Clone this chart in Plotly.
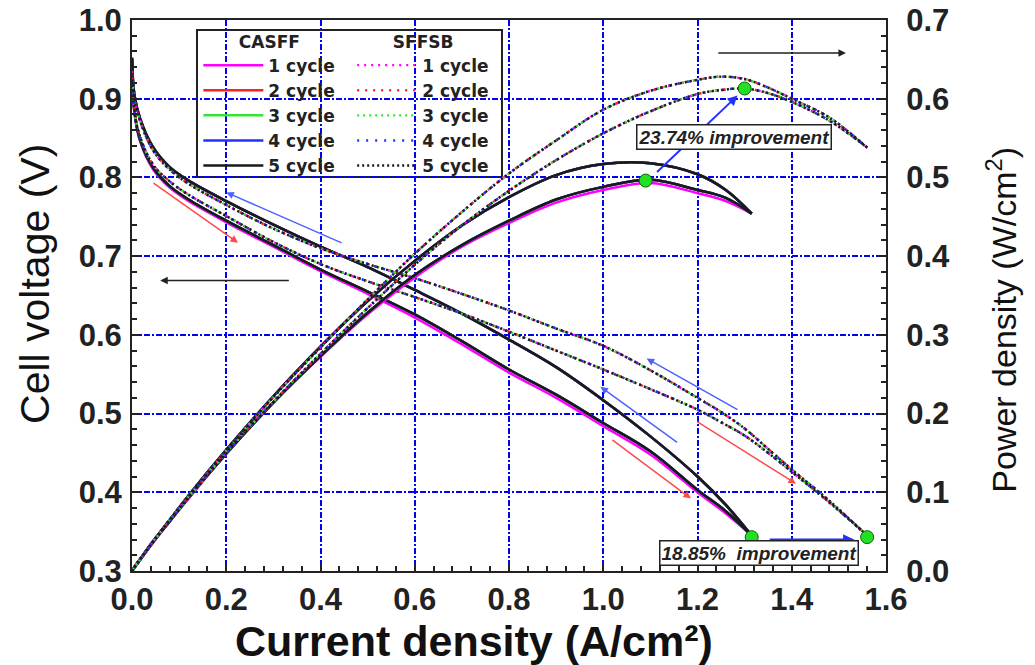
import plotly.graph_objects as go

# ---------------- data ----------------
cycles = ["1 cycle", "2 cycle", "3 cycle", "4 cycle", "5 cycle"]
cycle_colors = ["#ff00ff", "#ff2020", "#33e633", "#2030ff", "#1a1a1a"]

# CASFF current density grid (A/cm2)
casff_i = [0.0, 0.005, 0.017, 0.045, 0.08, 0.12, 0.2, 0.3, 0.4, 0.5, 0.6,
           0.7, 0.8, 0.9, 1.0, 1.1, 1.2, 1.26, 1.315]
# forward sweep (increasing current) - lower branch
casff_fwd_v = [0.950, 0.885, 0.848, 0.812, 0.789, 0.772, 0.745, 0.714, 0.683, 0.655,
               0.626, 0.592, 0.556, 0.524, 0.488, 0.452, 0.403, 0.376, 0.345]
casff_fwd_p = [0.0, 0.004, 0.014, 0.037, 0.063, 0.093, 0.149, 0.214, 0.273, 0.328,
               0.376, 0.414, 0.445, 0.472, 0.488, 0.497, 0.484, 0.474, 0.454]
# backward sweep - upper branch
casff_bwd_v = [0.952, 0.905, 0.875, 0.838, 0.813, 0.796, 0.770, 0.740, 0.712, 0.686,
               0.657, 0.627, 0.594, 0.559, 0.517, 0.471, 0.420, 0.384, 0.345]
casff_bwd_p = [0.0, 0.005, 0.015, 0.038, 0.065, 0.096, 0.154, 0.222, 0.285, 0.343,
               0.394, 0.439, 0.475, 0.503, 0.517, 0.518, 0.504, 0.484, 0.454]
# cycle 1 forward branch sits slightly lower
casff_c1_fwd_v = [0.950, 0.883, 0.846, 0.810, 0.787, 0.770, 0.743, 0.712, 0.681, 0.652,
                  0.622, 0.588, 0.552, 0.520, 0.484, 0.448, 0.400, 0.373, 0.345]
casff_c1_fwd_p = [0.0, 0.004, 0.014, 0.036, 0.063, 0.092, 0.149, 0.214, 0.272, 0.326,
                  0.373, 0.412, 0.442, 0.468, 0.484, 0.493, 0.480, 0.470, 0.454]

# SFFSB current density grid
sffsb_i = [0.0, 0.005, 0.017, 0.045, 0.08, 0.12, 0.2, 0.3, 0.4, 0.5, 0.6, 0.7,
           0.8, 0.9, 1.0, 1.1, 1.2, 1.25, 1.3, 1.35, 1.4, 1.48, 1.56]
sffsb_fwd_v = [0.930, 0.885, 0.852, 0.816, 0.795, 0.778, 0.751, 0.718, 0.690, 0.668, 0.648,
               0.627, 0.604, 0.580, 0.556, 0.531, 0.505, 0.489, 0.472, 0.450, 0.426,
               0.387, 0.345]
sffsb_fwd_p = [0.0, 0.004, 0.014, 0.037, 0.064, 0.093, 0.150, 0.215, 0.276, 0.334, 0.389,
               0.439, 0.483, 0.522, 0.556, 0.584, 0.606, 0.611, 0.613, 0.607, 0.596,
               0.572, 0.538]
sffsb_bwd_v = [0.935, 0.900, 0.872, 0.834, 0.810, 0.792, 0.765, 0.735, 0.710, 0.690, 0.672,
               0.652, 0.631, 0.608, 0.586, 0.555, 0.520, 0.502, 0.481, 0.455, 0.429,
               0.389, 0.345]
sffsb_bwd_p = [0.0, 0.005, 0.015, 0.038, 0.065, 0.095, 0.153, 0.221, 0.284, 0.345, 0.403,
               0.456, 0.505, 0.547, 0.586, 0.610, 0.624, 0.628, 0.625, 0.614, 0.600,
               0.576, 0.538]

# highlighted points
peak_i = [1.09, 1.30]
peak_p = [0.496, 0.613]
limit_i = [1.315, 1.56]
limit_v = [0.343, 0.343]

x_ticks = [0.0, 0.2, 0.4, 0.6, 0.8, 1.0, 1.2, 1.4, 1.6]

# ---------------- figure ----------------
FONT = "Liberation Sans, Arial, Helvetica, sans-serif"
sffsb_dashes = ["2px,5px", "2px,6px", "2px,4px", "2px,7px", "2px,3px"]


def loop(i, fwd, bwd):
    xs = list(i) + [None] + list(reversed(i))
    ys = list(fwd) + [None] + list(reversed(bwd))
    return xs, ys


fig = go.Figure()

for k, (name, col) in enumerate(zip(cycles, cycle_colors)):
    fv = casff_c1_fwd_v if k == 0 else casff_fwd_v
    fp = casff_c1_fwd_p if k == 0 else casff_fwd_p
    xs, ys = loop(casff_i, fv, casff_bwd_v)
    fig.add_trace(go.Scatter(x=xs, y=ys, mode="lines", name=name, legend="legend",
                             legendgroup="c%d" % k,
                             line=dict(color=col, width=2.5, shape="spline", smoothing=1.0)))
    xs, ys = loop(casff_i, fp, casff_bwd_p)
    fig.add_trace(go.Scatter(x=xs, y=ys, mode="lines", yaxis="y2", showlegend=False,
                             legendgroup="c%d" % k,
                             line=dict(color=col, width=2.5, shape="spline", smoothing=1.0)))

for k, (name, col) in enumerate(zip(cycles, cycle_colors)):
    xs, ys = loop(sffsb_i, sffsb_fwd_v, sffsb_bwd_v)
    fig.add_trace(go.Scatter(x=xs, y=ys, mode="lines", name=name, legend="legend2",
                             legendgroup="s%d" % k,
                             line=dict(color=col, width=2.4, dash=sffsb_dashes[k],
                                       shape="spline", smoothing=1.0)))
    xs, ys = loop(sffsb_i, sffsb_fwd_p, sffsb_bwd_p)
    fig.add_trace(go.Scatter(x=xs, y=ys, mode="lines", yaxis="y2", showlegend=False,
                             legendgroup="s%d" % k,
                             line=dict(color=col, width=2.4, dash=sffsb_dashes[k],
                                       shape="spline", smoothing=1.0)))

marker = dict(size=13, color="#22e022", line=dict(color="#106010", width=1))
fig.add_trace(go.Scatter(x=peak_i, y=peak_p, yaxis="y2", mode="markers",
                         marker=marker, showlegend=False))
fig.add_trace(go.Scatter(x=limit_i, y=limit_v, mode="markers",
                         marker=marker, showlegend=False))

GRID = "#0000ff"
axis_common = dict(showline=True, linecolor="#222", linewidth=2, automargin=False,
                   ticks="inside", ticklen=8, tickwidth=1.5, tickcolor="#222",
                   tickfont=dict(family=FONT, size=31, color="#222", weight="bold"),
                   zeroline=False)
legend_font = dict(family="DejaVu Sans, Liberation Sans, sans-serif", size=17,
                   color="#222", weight="bold")

fig.update_layout(
    width=1035, height=665,
    margin=dict(l=132, r=149, t=20, b=94),
    paper_bgcolor="white", plot_bgcolor="white",
    xaxis=dict(range=[0, 1.6], tickvals=x_ticks, tickformat=".1f",
               showgrid=True, gridcolor=GRID, gridwidth=1.5, griddash="6px,2px,2px,2px",
               mirror=True, ticklabelstandoff=0,
               minor=dict(ticks="inside", dtick=0.04, ticklen=5, tickcolor="#222"),
               **axis_common),
    yaxis=dict(range=[0.3, 1.0], dtick=0.1, tickformat=".1f",
               showgrid=True, gridcolor=GRID, gridwidth=1.5, griddash="6px,2px,2px,2px",
               ticklabelstandoff=2,
               minor=dict(ticks="inside", dtick=0.02, ticklen=5, tickcolor="#222"),
               **axis_common),
    yaxis2=dict(range=[0.0, 0.7], dtick=0.1, tickformat=".1f", overlaying="y", side="right",
                showgrid=False, ticklabelstandoff=12,
                minor=dict(ticks="inside", dtick=0.02, ticklen=5, tickcolor="#222"),
                **axis_common),
    legend=dict(x=0.088, y=0.99, xanchor="left", yanchor="top", itemwidth=60,
                bgcolor="rgba(0,0,0,0)", borderwidth=0, tracegroupgap=0,
                font=legend_font,
                title=dict(text="CASFF", side="top center", font=legend_font)),
    legend2=dict(x=0.292, y=0.99, xanchor="left", yanchor="top", itemwidth=60,
                 bgcolor="rgba(0,0,0,0)", borderwidth=0, tracegroupgap=0,
                 font=legend_font,
                 title=dict(text="SFFSB", side="top center", font=legend_font)),
    shapes=[dict(type="rect", xref="paper", yref="paper", x0=0.0862, x1=0.4907,
                 y0=0.715, y1=0.982, line=dict(color="#222", width=2),
                 fillcolor="white", layer="between")],
)


def arrow(head, tail, color, width=1.5, yref="y", size=1.0):
    return dict(x=head[0], y=head[1], ax=tail[0], ay=tail[1], xref="x", yref=yref,
                axref="x", ayref=yref, text="", showarrow=True, arrowhead=2,
                arrowsize=size, arrowwidth=width, arrowcolor=color, standoff=0,
                startstandoff=0)


RED = "#ff4a4a"
BLUE = "#5060ff"
annotations = [
    arrow((1.515, 0.958), (1.241, 0.958), "#222"),
    arrow((0.06, 0.669), (0.336, 0.669), "#222"),
    arrow((0.225, 0.717), (0.0425, 0.794), RED),
    arrow((0.20, 0.781), (0.448, 0.716), BLUE),
    arrow((1.186, 0.392), (1.016, 0.468), RED),
    arrow((1.409, 0.411), (1.196, 0.491), RED),
    arrow((0.994, 0.534), (1.160, 0.462), BLUE),
    arrow((1.092, 0.570), (1.288, 0.504), BLUE),
    arrow((1.285, 0.604), (1.111, 0.505), "#2030ff", width=2, yref="y2"),
    arrow((1.535, 0.339), (1.35, 0.339), "#2030ff", width=3.5, size=0.7),
    dict(x=1.277, y=0.552, xref="x", yref="y2", showarrow=False,
         text="<b><i>23.74% improvement</i></b>",
         font=dict(family=FONT, size=19, color="#222"),
         bgcolor="white", bordercolor="#222", borderwidth=1.5, borderpad=1),
    dict(x=1.33, y=0.323, xref="x", yref="y", showarrow=False,
         text="<b><i>18.85%  improvement</i></b>",
         font=dict(family=FONT, size=19, color="#222"),
         bgcolor="white", bordercolor="#222", borderwidth=1.5, borderpad=1),
    # axis titles
    dict(x=0.4536, y=-0.1270, xref="paper", yref="paper", showarrow=False,
         xanchor="center", yanchor="middle",
         text="<b>Current density (A/cm²)</b>",
         font=dict(family=FONT, size=43, color="#111")),
    dict(x=-0.1286, y=0.521, xref="paper", yref="paper", showarrow=False, textangle=-90,
         xanchor="center", yanchor="middle",
         text="Cell voltage (V)", font=dict(family=FONT, size=41, color="#111")),
    dict(x=1.1538, y=0.456, xref="paper", yref="paper", showarrow=False, textangle=-90,
         xanchor="center", yanchor="middle",
         text="Power density (W/cm<sup>2</sup>)", font=dict(family=FONT, size=34, color="#111")),
]
fig.update_layout(annotations=annotations)

fig.write_html("out.html")
